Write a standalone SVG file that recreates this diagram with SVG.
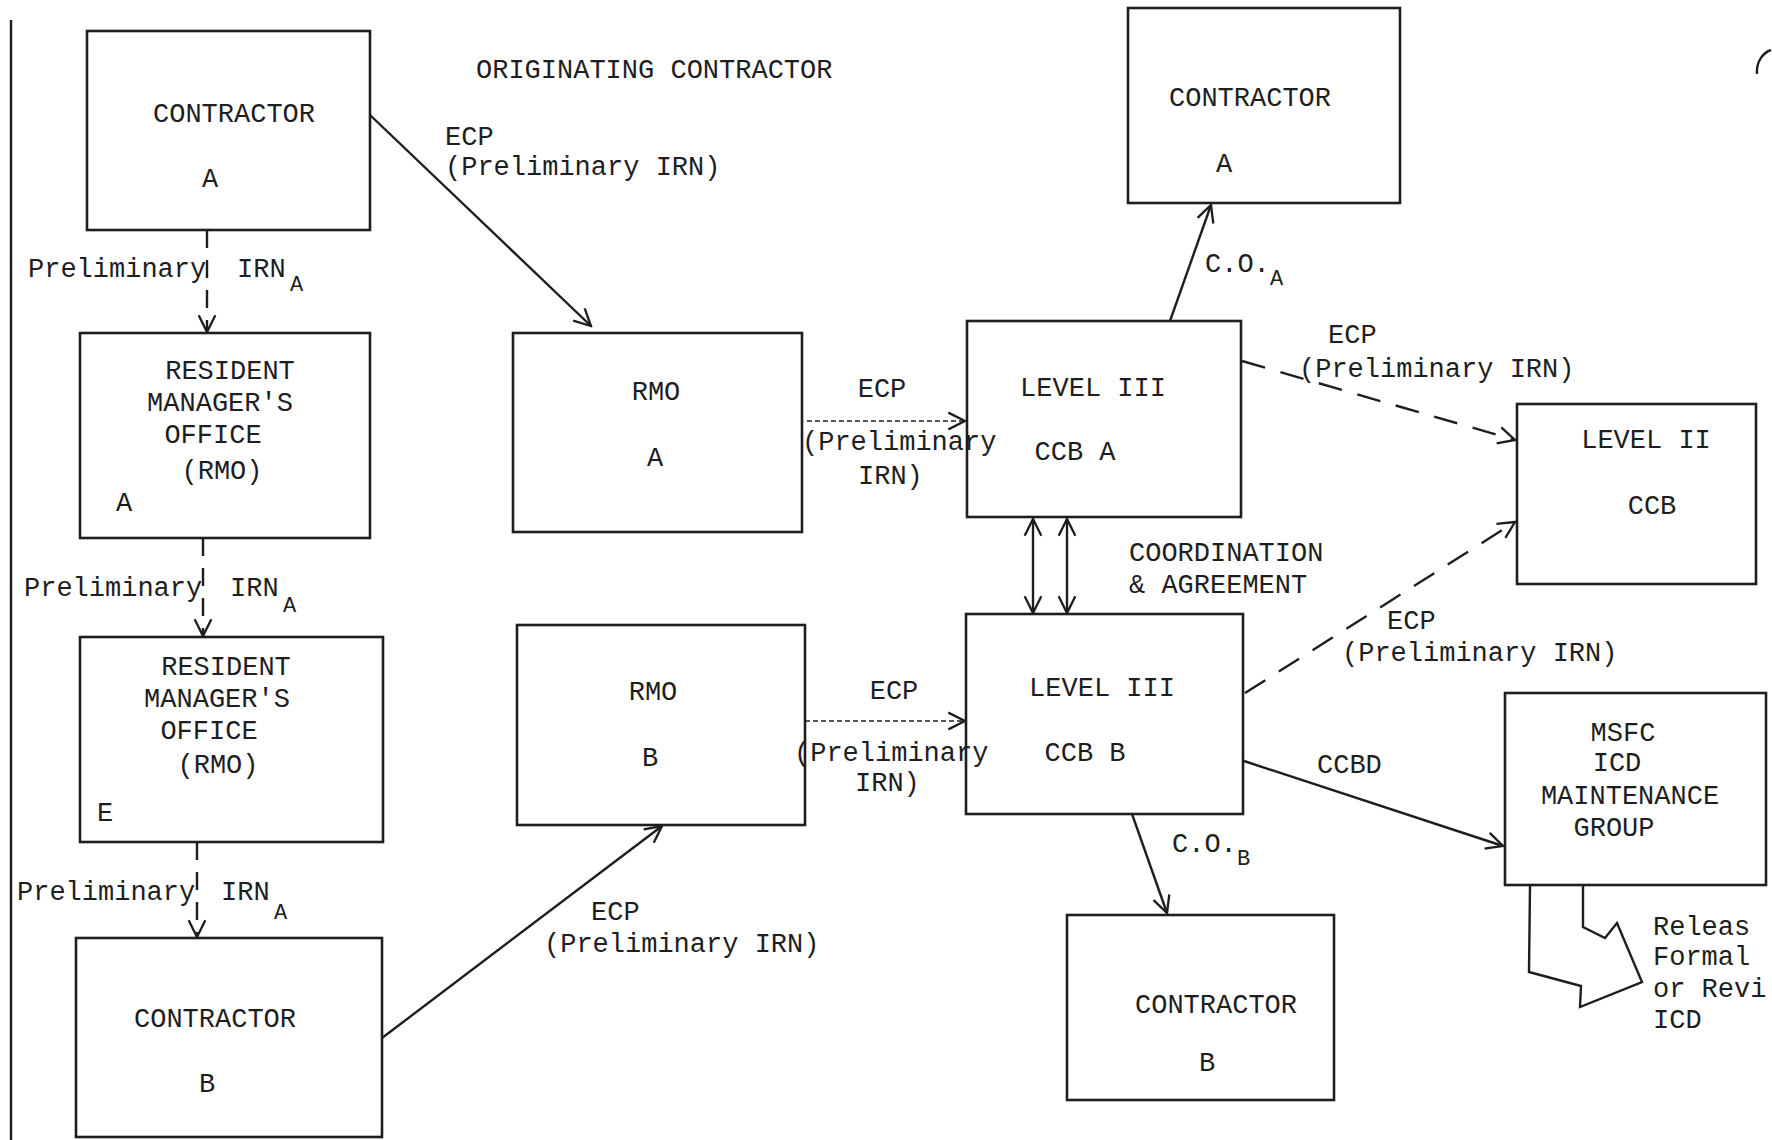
<svg xmlns="http://www.w3.org/2000/svg" width="1772" height="1140" viewBox="0 0 1772 1140">
<style>
  .box { fill: none; stroke: #1e1e1e; stroke-width: 2.6; }
  .t { font-family: "Liberation Mono", "DejaVu Sans Mono", monospace; font-size: 27px; fill: #1e1e1e; }
  .c { text-anchor: middle; }
  .sub { font-family: "Liberation Mono", "DejaVu Sans Mono", monospace; font-size: 22px; fill: #1e1e1e; }
  .ln { fill: none; stroke: #1e1e1e; stroke-width: 2.4; }
  .dash { stroke-dasharray: 18 12; }
  .dot { stroke-width: 1.6; stroke-dasharray: 5 3; }
  .ldash { stroke-dasharray: 24 16; }
</style>
<defs>
  <marker id="arr" viewBox="0 0 12 12" refX="11" refY="6" markerUnits="userSpaceOnUse" markerWidth="20" markerHeight="20" orient="auto-start-reverse">
    <path d="M1,1 L11,6 L1,11" fill="none" stroke="#1e1e1e" stroke-width="1.4"/>
  </marker>
</defs>
<rect width="1772" height="1140" fill="#ffffff"/>

<!-- left margin line -->
<line x1="11" y1="20" x2="11" y2="1140" stroke="#1e1e1e" stroke-width="2.4"/>

<text class="t" x="476" y="78">ORIGINATING CONTRACTOR</text>

<g id="contractor-a-left">
  <rect class="box" x="87" y="31" width="283" height="199"/>
  <text class="t c" x="234" y="122">CONTRACTOR</text>
  <text class="t c" x="210" y="187">A</text>
</g>

<g id="rmo-resident-a">
  <rect class="box" x="80" y="333" width="290" height="205"/>
  <text class="t c" x="230" y="379">RESIDENT</text>
  <text class="t c" x="220" y="411">MANAGER'S</text>
  <text class="t c" x="213" y="443">OFFICE</text>
  <text class="t c" x="222" y="479">(RMO)</text>
  <text class="t c" x="124" y="511">A</text>
</g>

<g id="rmo-resident-b">
  <rect class="box" x="80" y="637" width="303" height="205"/>
  <text class="t c" x="226" y="675">RESIDENT</text>
  <text class="t c" x="217" y="707">MANAGER'S</text>
  <text class="t c" x="209" y="739">OFFICE</text>
  <text class="t c" x="218" y="773">(RMO)</text>
  <text class="t c" x="105" y="821">E</text>
</g>

<g id="contractor-b-left">
  <rect class="box" x="76" y="938" width="306" height="199"/>
  <text class="t c" x="215" y="1027">CONTRACTOR</text>
  <text class="t c" x="207" y="1092">B</text>
</g>

<g id="rmo-a">
  <rect class="box" x="513" y="333" width="289" height="199"/>
  <text class="t c" x="656" y="400">RMO</text>
  <text class="t c" x="655" y="466">A</text>
</g>

<g id="rmo-b">
  <rect class="box" x="517" y="625" width="288" height="200"/>
  <text class="t c" x="653" y="700">RMO</text>
  <text class="t c" x="650" y="766">B</text>
</g>

<g id="level3-ccb-a">
  <rect class="box" x="967" y="321" width="274" height="196"/>
  <text class="t c" x="1093" y="396">LEVEL III</text>
  <text class="t c" x="1075" y="460">CCB A</text>
</g>

<g id="level3-ccb-b">
  <rect class="box" x="966" y="614" width="277" height="200"/>
  <text class="t c" x="1102" y="696">LEVEL III</text>
  <text class="t c" x="1085" y="761">CCB B</text>
</g>

<g id="contractor-a-right">
  <rect class="box" x="1128" y="8" width="272" height="195"/>
  <text class="t c" x="1250" y="106">CONTRACTOR</text>
  <text class="t c" x="1224" y="172">A</text>
</g>

<g id="level2-ccb">
  <rect class="box" x="1517" y="404" width="239" height="180"/>
  <text class="t c" x="1646" y="448">LEVEL II</text>
  <text class="t c" x="1652" y="514">CCB</text>
</g>

<g id="msfc-icd">
  <rect class="box" x="1505" y="693" width="261" height="192"/>
  <text class="t c" x="1623" y="741">MSFC</text>
  <text class="t c" x="1617" y="771">ICD</text>
  <text class="t c" x="1630" y="804">MAINTENANCE</text>
  <text class="t c" x="1614" y="836">GROUP</text>
</g>

<g id="contractor-b-right">
  <rect class="box" x="1067" y="915" width="267" height="185"/>
  <text class="t c" x="1216" y="1013">CONTRACTOR</text>
  <text class="t c" x="1207" y="1071">B</text>
</g>

<g id="connectors">
  <line class="ln" x1="370" y1="115" x2="591" y2="326" marker-end="url(#arr)"/>
  <line class="ln dash" x1="207" y1="230" x2="207" y2="332" marker-end="url(#arr)"/>
  <line class="ln dash" x1="203" y1="538" x2="203" y2="636" marker-end="url(#arr)"/>
  <line class="ln dash" x1="197" y1="842" x2="197" y2="937" marker-end="url(#arr)"/>
  <line class="ln dot" x1="807" y1="421" x2="965" y2="421" marker-end="url(#arr)"/>
  <line class="ln dot" x1="805" y1="721" x2="965" y2="721" marker-end="url(#arr)"/>
  <line class="ln" x1="382" y1="1038" x2="662" y2="826" marker-end="url(#arr)"/>
  <line class="ln" x1="1170" y1="321" x2="1211" y2="205" marker-end="url(#arr)"/>
  <line class="ln" x1="1033" y1="519" x2="1033" y2="613" marker-start="url(#arr)" marker-end="url(#arr)"/>
  <line class="ln" x1="1067" y1="519" x2="1067" y2="613" marker-start="url(#arr)" marker-end="url(#arr)"/>
  <line class="ln ldash" x1="1242" y1="361" x2="1515" y2="440" marker-end="url(#arr)"/>
  <line class="ln ldash" x1="1245" y1="693" x2="1515" y2="522" marker-end="url(#arr)"/>
  <line class="ln" x1="1244" y1="761" x2="1503" y2="846" marker-end="url(#arr)"/>
  <line class="ln" x1="1132" y1="814" x2="1167" y2="913" marker-end="url(#arr)"/>
  <polyline class="ln" points="1530,886 1529,972 1581,986 1580,1007 1642,982 1617,923 1605,938 1583,927 1583,886"/>
</g>

<g id="labels">
  <text class="t" x="445" y="145">ECP</text>
  <text class="t" x="445" y="175">(Preliminary IRN)</text>

  <text class="t" x="28" y="277">Preliminary</text>
  <text class="t" x="237" y="277">IRN</text>
  <text class="sub" x="290" y="291">A</text>

  <text class="t" x="24" y="596">Preliminary</text>
  <text class="t" x="230" y="596">IRN</text>
  <text class="sub" x="283" y="612">A</text>

  <text class="t" x="17" y="900">Preliminary</text>
  <text class="t" x="221" y="900">IRN</text>
  <text class="sub" x="274" y="919">A</text>

  <text class="t" x="591" y="920">ECP</text>
  <text class="t" x="544" y="952">(Preliminary IRN)</text>

  <text class="t c" x="882" y="397">ECP</text>
  <text class="t" x="802" y="450">(Preliminary</text>
  <text class="t" x="858" y="484">IRN)</text>

  <text class="t c" x="894" y="699">ECP</text>
  <text class="t" x="794" y="761">(Preliminary</text>
  <text class="t" x="855" y="791">IRN)</text>

  <text class="t" x="1205" y="272">C.O.</text>
  <text class="sub" x="1270" y="285">A</text>

  <text class="t" x="1129" y="561">COORDINATION</text>
  <text class="t" x="1129" y="593">&amp; AGREEMENT</text>

  <text class="t" x="1328" y="343">ECP</text>
  <text class="t" x="1299" y="377">(Preliminary IRN)</text>

  <text class="t" x="1387" y="629">ECP</text>
  <text class="t" x="1342" y="661">(Preliminary IRN)</text>

  <text class="t" x="1317" y="773">CCBD</text>

  <text class="t" x="1172" y="852">C.O.</text>
  <text class="sub" x="1237" y="865">B</text>

  <text class="t" x="1653" y="935">Releas</text>
  <text class="t" x="1653" y="965">Formal</text>
  <text class="t" x="1653" y="997">or Revi</text>
  <text class="t" x="1653" y="1028">ICD</text>
</g>

<path d="M1771,50 C1762,53 1756,63 1757,74" fill="none" stroke="#1e1e1e" stroke-width="2.4"/>
</svg>
